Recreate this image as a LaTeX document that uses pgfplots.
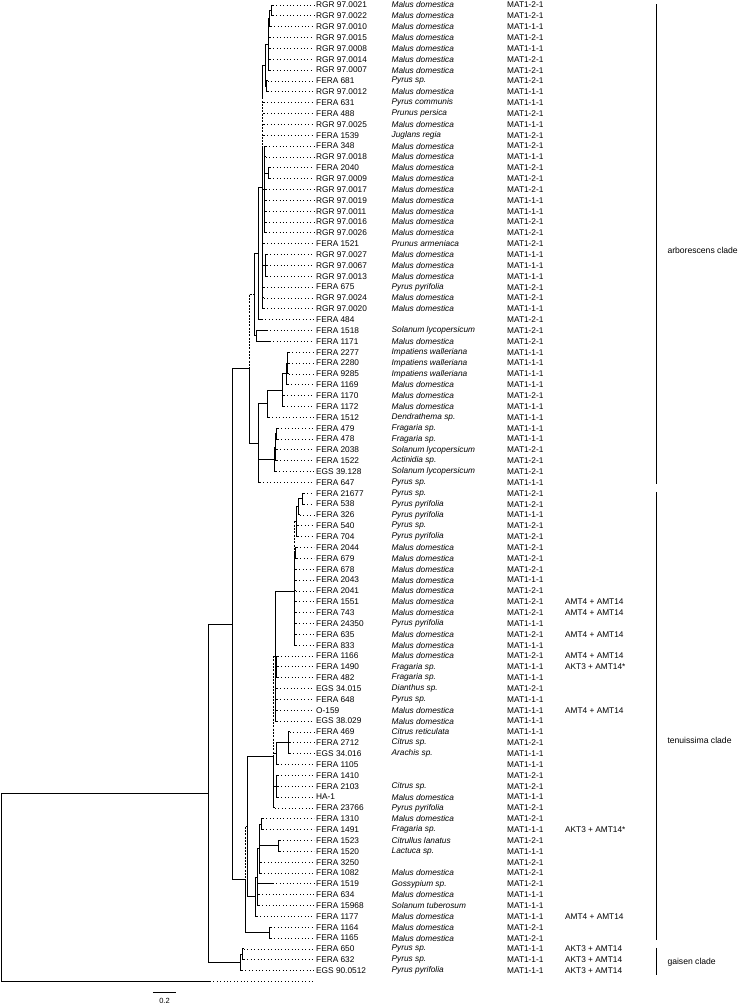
\documentclass[border=0pt]{standalone}
\usepackage{pgfplots}
\pgfplotsset{compat=1.18}
\usepackage{pgfplotstable}
\usepackage{fontspec}
\setmainfont{Liberation Sans}

\pgfplotstableread[col sep=comma,row sep=\\]{
i,px,tx,name,sp,mat,amt\\
1,272,273,RGR 97.0021,Malus domestica,MAT1-2-1,{}\\
2,272,273,RGR 97.0022,Malus domestica,MAT1-2-1,{}\\
3,270,271,RGR 97.0010,Malus domestica,MAT1-1-1,{}\\
4,269,270,RGR 97.0015,Malus domestica,MAT1-2-1,{}\\
5,269,270,RGR 97.0008,Malus domestica,MAT1-1-1,{}\\
6,269,270,RGR 97.0014,Malus domestica,MAT1-2-1,{}\\
7,269,270,RGR 97.0007,Malus domestica,MAT1-2-1,{}\\
8,267,268,FERA 681,Pyrus sp.,MAT1-2-1,{}\\
9,267,268,RGR 97.0012,Malus domestica,MAT1-1-1,{}\\
10,263,264,FERA 631,Pyrus communis,MAT1-1-1,{}\\
11,263,264,FERA 488,Prunus persica,MAT1-2-1,{}\\
12,263,264,RGR 97.0025,Malus domestica,MAT1-1-1,{}\\
13,263,264,FERA 1539,Juglans regia,MAT1-2-1,{}\\
14,265,266,FERA 348,Malus domestica,MAT1-2-1,{}\\
15,265,266,RGR 97.0018,Malus domestica,MAT1-1-1,{}\\
16,269,270,FERA 2040,Malus domestica,MAT1-2-1,{}\\
17,269,270,RGR 97.0009,Malus domestica,MAT1-2-1,{}\\
18,265,266,RGR 97.0017,Malus domestica,MAT1-2-1,{}\\
19,265,266,RGR 97.0019,Malus domestica,MAT1-1-1,{}\\
20,265,266,RGR 97.0011,Malus domestica,MAT1-1-1,{}\\
21,265,266,RGR 97.0016,Malus domestica,MAT1-2-1,{}\\
22,265,266,RGR 97.0026,Malus domestica,MAT1-2-1,{}\\
23,263,264,FERA 1521,Prunus armeniaca,MAT1-2-1,{}\\
24,266,267,RGR 97.0027,Malus domestica,MAT1-1-1,{}\\
25,266,267,RGR 97.0067,Malus domestica,MAT1-1-1,{}\\
26,266,267,RGR 97.0013,Malus domestica,MAT1-1-1,{}\\
27,263,264,FERA 675,Pyrus pyrifolia,MAT1-2-1,{}\\
28,263,264,RGR 97.0024,Malus domestica,MAT1-2-1,{}\\
29,263,264,RGR 97.0020,Malus domestica,MAT1-1-1,{}\\
30,259,262,FERA 484,{},MAT1-2-1,{}\\
31,257,267,FERA 1518,Solanum lycopersicum,MAT1-2-1,{}\\
32,257,270,FERA 1171,Malus domestica,MAT1-2-1,{}\\
33,288,289,FERA 2277,Impatiens walleriana,MAT1-1-1,{}\\
34,288,289,FERA 2280,Impatiens walleriana,MAT1-1-1,{}\\
35,288,289,FERA 9285,Impatiens walleriana,MAT1-1-1,{}\\
36,287,288,FERA 1169,Malus domestica,MAT1-1-1,{}\\
37,283,284,FERA 1170,Malus domestica,MAT1-2-1,{}\\
38,283,284,FERA 1172,Malus domestica,MAT1-1-1,{}\\
39,268,269,FERA 1512,Dendrathema sp.,MAT1-1-1,{}\\
40,277,278,FERA 479,Fragaria sp.,MAT1-1-1,{}\\
41,277,278,FERA 478,Fragaria sp.,MAT1-1-1,{}\\
42,276,277,FERA 2038,Solanum lycopersicum,MAT1-2-1,{}\\
43,276,277,FERA 1522,Actinidia sp.,MAT1-2-1,{}\\
44,275,276,EGS 39.128,Solanum lycopersicum,MAT1-2-1,{}\\
45,259,260,FERA 647,Pyrus sp.,MAT1-1-1,{}\\
46,303,304,FERA 21677,Pyrus sp.,MAT1-2-1,{}\\
47,303,304,FERA 538,Pyrus pyrifolia,MAT1-2-1,{}\\
48,299,300,FERA 326,Pyrus pyrifolia,MAT1-1-1,{}\\
49,297,298,FERA 540,Pyrus sp.,MAT1-2-1,{}\\
50,297,298,FERA 704,Pyrus pyrifolia,MAT1-2-1,{}\\
51,296,297,FERA 2044,Malus domestica,MAT1-2-1,{}\\
52,296,297,FERA 679,Malus domestica,MAT1-2-1,{}\\
53,295,296,FERA 678,Malus domestica,MAT1-2-1,{}\\
54,295,296,FERA 2043,Malus domestica,MAT1-1-1,{}\\
55,295,296,FERA 2041,Malus domestica,MAT1-2-1,{}\\
56,295,296,FERA 1551,Malus domestica,MAT1-2-1,AMT4 + AMT14\\
57,295,296,FERA 743,Malus domestica,MAT1-2-1,AMT4 + AMT14\\
58,295,296,FERA 24350,Pyrus pyrifolia,MAT1-1-1,{}\\
59,295,296,FERA 635,Malus domestica,MAT1-2-1,AMT4 + AMT14\\
60,295,296,FERA 833,Malus domestica,MAT1-1-1,{}\\
61,277,278,FERA 1166,Malus domestica,MAT1-2-1,AMT4 + AMT14\\
62,277,278,FERA 1490,Fragaria sp.,MAT1-1-1,AKT3 + AMT14*\\
63,277,278,FERA 482,Fragaria sp.,MAT1-1-1,{}\\
64,276,277,EGS 34.015,Dianthus sp.,MAT1-2-1,{}\\
65,276,277,FERA 648,Pyrus sp.,MAT1-1-1,{}\\
66,276,277,O-159,Malus domestica,MAT1-1-1,AMT4 + AMT14\\
67,276,277,EGS 38.029,Malus domestica,MAT1-1-1,{}\\
68,289,290,FERA 469,Citrus reticulata,MAT1-1-1,{}\\
69,289,290,FERA 2712,Citrus sp.,MAT1-2-1,{}\\
70,289,290,EGS 34.016,Arachis sp.,MAT1-1-1,{}\\
71,277,278,FERA 1105,{},MAT1-1-1,{}\\
72,277,278,FERA 1410,{},MAT1-2-1,{}\\
73,277,278,FERA 2103,Citrus sp.,MAT1-2-1,{}\\
74,277,278,HA-1,Malus domestica,MAT1-1-1,{}\\
75,274,275,FERA 23766,Pyrus pyrifolia,MAT1-2-1,{}\\
76,262,263,FERA 1310,Malus domestica,MAT1-2-1,{}\\
77,262,263,FERA 1491,Fragaria sp.,MAT1-1-1,AKT3 + AMT14*\\
78,279,280,FERA 1523,Citrullus lanatus,MAT1-2-1,{}\\
79,279,280,FERA 1520,Lactuca sp.,MAT1-1-1,{}\\
80,260,261,FERA 3250,{},MAT1-2-1,{}\\
81,260,261,FERA 1082,Malus domestica,MAT1-2-1,{}\\
82,258,273,FERA 1519,Gossypium sp.,MAT1-2-1,{}\\
83,258,259,FERA 634,Malus domestica,MAT1-1-1,{}\\
84,258,259,FERA 15968,Solanum tuberosum,MAT1-1-1,{}\\
85,256,257,FERA 1177,Malus domestica,MAT1-1-1,AMT4 + AMT14\\
86,270,271,FERA 1164,Malus domestica,MAT1-2-1,{}\\
87,270,271,FERA 1165,Malus domestica,MAT1-2-1,{}\\
88,243,244,FERA 650,Pyrus sp.,MAT1-1-1,AKT3 + AMT14\\
89,243,244,FERA 632,Pyrus sp.,MAT1-1-1,AKT3 + AMT14\\
90,241,242,EGS 90.0512,Pyrus pyrifolia,MAT1-1-1,AKT3 + AMT14\\
91,2,210,{},{},{},{}\\
}\leaves

\begin{document}
\begin{tikzpicture}
\begin{axis}[name=ax, scale only axis, width=750pt, height=1005pt,
  xmin=0, xmax=750, ymin=0.539, ymax=93.166, y dir=reverse,
  hide axis, clip=false, unbounded coords=jump,
  every node near coord/.append style={anchor=west, inner sep=0pt, text=black,
     font=\fontsize{8.3}{9}\selectfont}]
% solid internal branches
\addplot[black, line width=1pt, line cap=rect] coordinates {
(2,73.66)(2,91) (nan,nan)
(2,73.66)(209,73.66) (nan,nan)
(209,58.07)(209,89.25) (nan,nan)
(209,58.07)(233,58.07) (nan,nan)
(209,89.25)(241,89.25) (nan,nan)
(233,34.54)(233,81.6) (nan,nan)
(233,34.54)(250,34.54) (nan,nan)
(241,88.5)(241,90) (nan,nan)
(241,88.5)(243,88.5) (nan,nan)
(243,88)(243,89) (nan,nan)
(250,34.54)(250,41.375) (nan,nan)
(250,41.375)(259,41.375) (nan,nan)
(259,37.75)(259,45) (nan,nan)
(259,37.75)(268,37.75) (nan,nan)
(268,36.5)(268,39) (nan,nan)
(268,36.5)(283,36.5) (nan,nan)
(283,35)(283,38) (nan,nan)
(283,35)(287,35) (nan,nan)
(287,34)(287,36) (nan,nan)
(287,34)(288,34) (nan,nan)
(288,33)(288,35) (nan,nan)
(259,42.875)(275,42.875) (nan,nan)
(275,41.75)(275,44) (nan,nan)
(275,41.75)(276,41.75) (nan,nan)
(276,40.5)(276,43) (nan,nan)
(276,40.5)(277,40.5) (nan,nan)
(277,40)(277,41) (nan,nan)
(255,23.89)(255,31.5) (nan,nan)
(255,31.5)(257,31.5) (nan,nan)
(257,31)(257,32) (nan,nan)
(255,23.89)(259,23.89) (nan,nan)
(259,17.78)(259,30) (nan,nan)
(259,17.78)(263,17.78) (nan,nan)
(263,6.56)(263,9.5) (nan,nan)
(263,14)(263,29) (nan,nan)
(263,6.56)(266,6.56) (nan,nan)
(266,4.625)(266,8.5) (nan,nan)
(266,4.625)(269,4.625) (nan,nan)
(266,8.5)(267,8.5) (nan,nan)
(267,8)(267,9) (nan,nan)
(269,2.25)(269,7) (nan,nan)
(269,2.25)(270,2.25) (nan,nan)
(270,1.5)(270,3) (nan,nan)
(270,1.5)(272,1.5) (nan,nan)
(272,1)(272,2) (nan,nan)
(263,18)(265,18) (nan,nan)
(265,14)(265,22) (nan,nan)
(265,16.5)(269,16.5) (nan,nan)
(269,16)(269,17) (nan,nan)
(263,25)(266,25) (nan,nan)
(266,24)(266,26) (nan,nan)
(233,81.6)(246,81.6) (nan,nan)
(246,81.6)(246,86.5) (nan,nan)
(246,86.5)(270,86.5) (nan,nan)
(270,86)(270,87) (nan,nan)
(247.5,70.3)(247.5,83.2) (nan,nan)
(247.5,70.3)(274,70.3) (nan,nan)
(247.5,83.2)(256,83.2) (nan,nan)
(256,81.4)(256,85) (nan,nan)
(256,81.4)(258,81.4) (nan,nan)
(258,78.75)(258,84) (nan,nan)
(258,78.75)(260,78.75) (nan,nan)
(260,76.5)(260,81) (nan,nan)
(260,76.5)(262,76.5) (nan,nan)
(262,76)(262,77) (nan,nan)
(260,78.5)(279,78.5) (nan,nan)
(279,78)(279,79) (nan,nan)
(274,70.3)(274,75) (nan,nan)
(276,55.03)(276,67) (nan,nan)
(276,55.03)(295,55.03) (nan,nan)
(276,62)(277,62) (nan,nan)
(277,61)(277,63) (nan,nan)
(274,70)(277,70) (nan,nan)
(277,69)(277,71) (nan,nan)
(277,69)(289,69) (nan,nan)
(289,68)(289,70) (nan,nan)
(274,73)(277,73) (nan,nan)
(277,72)(277,74) (nan,nan)
(295,51.5)(295,60) (nan,nan)
(295,51.5)(296,51.5) (nan,nan)
(296,51)(296,52) (nan,nan)
(297,47.25)(297,50) (nan,nan)
(297,47.25)(299,47.25) (nan,nan)
(299,46.5)(299,48) (nan,nan)
(299,46.5)(303,46.5) (nan,nan)
(303,46)(303,47)
};
% dashed internal branches
\addplot[black, line width=1pt, dash pattern=on 2pt off 1.3pt] coordinates {
(250,27.7)(250,34.54) (nan,nan)
(250,27.7)(255,27.7) (nan,nan)
(263,9.5)(263,14) (nan,nan)
(246,76.75)(246,81.6) (nan,nan)
(246,76.75)(247.5,76.75) (nan,nan)
(274,61)(274,70.3) (nan,nan)
(274,61)(276,61) (nan,nan)
(295,48.6)(295,51.5) (nan,nan)
(295,48.6)(297,48.6)
};
% terminal branches (solid part)
\addplot[black, line width=1pt, mark=none, quiver={u=\thisrow{tx}-\thisrow{px}, v=0}]
  table[x=px, y=i] {\leaves};
% dotted leader lines
\addplot[black, line width=0.8pt, mark=none, dash pattern=on 0.8pt off 2.6pt,
  quiver={u=314-\thisrow{tx}, v=0}] table[x=tx, y=i] {\leaves};
% labels
\addplot[draw=none, point meta=explicit symbolic, nodes near coords]
  table[x expr=316, y=i, meta=name] {\leaves};
\addplot[draw=none, point meta=explicit symbolic, nodes near coords,
  every node near coord/.append style={font=\fontsize{8.3}{9}\selectfont\itshape}]
  table[x expr=391.5, y=i, meta=sp] {\leaves};
\addplot[draw=none, point meta=explicit symbolic, nodes near coords]
  table[x expr=507, y=i, meta=mat] {\leaves};
\addplot[draw=none, point meta=explicit symbolic, nodes near coords]
  table[x expr=565, y=i, meta=amt] {\leaves};
% clade brackets
\addplot[black, line width=1pt] coordinates {
(657,0.908)(657,45.15) (nan,nan)
(657,45.88)(657,87.17) (nan,nan)
(657,87.91)(657,90.4)
};
% scale bar
\addplot[black, line width=1pt] coordinates {(153,91.97)(176,91.97)};
\node[anchor=west, font=\fontsize{8.6}{10}\selectfont] at (axis cs:664,23.58) {arborescens clade};
\node[anchor=west, font=\fontsize{8.6}{10}\selectfont] at (axis cs:664,68.74) {tenuissima clade};
\node[anchor=west, font=\fontsize{8.6}{10}\selectfont] at (axis cs:664,89.2) {gaisen clade};
\node[font=\fontsize{7.5}{9}\selectfont] at (axis cs:164.5,92.75) {0.2};
\end{axis}
\pgfresetboundingbox
\path (ax.south west) rectangle (ax.north east);
\end{tikzpicture}
\end{document}
